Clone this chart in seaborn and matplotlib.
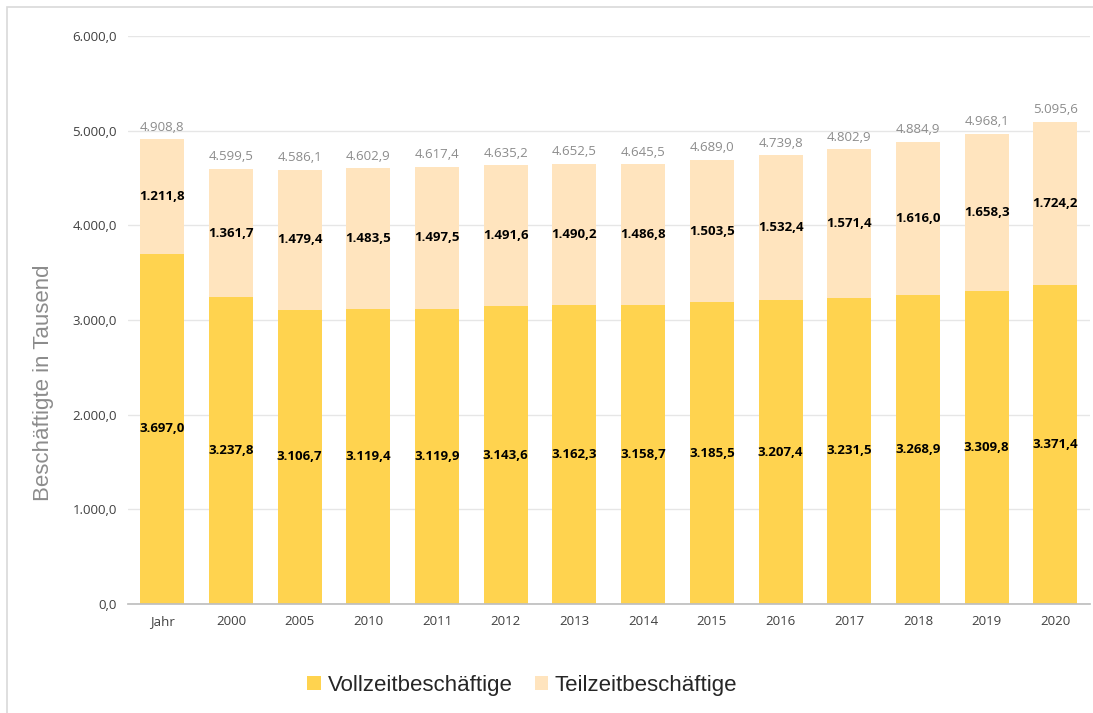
import matplotlib
matplotlib.use("Agg")
import matplotlib.pyplot as plt
import seaborn as sns
import pandas as pd
from matplotlib.patches import Rectangle

categories = ["Jahr", "2000", "2005", "2010", "2011", "2012", "2013", "2014",
              "2015", "2016", "2017", "2018", "2019", "2020"]
vollzeit = [3697.0, 3237.8, 3106.7, 3119.4, 3119.9, 3143.6, 3162.3, 3158.7,
            3185.5, 3207.4, 3231.5, 3268.9, 3309.8, 3371.4]
teilzeit = [1211.8, 1361.7, 1479.4, 1483.5, 1497.5, 1491.6, 1490.2, 1486.8,
            1503.5, 1532.4, 1571.4, 1616.0, 1658.3, 1724.2]
gesamt = [4908.8, 4599.5, 4586.1, 4602.9, 4617.4, 4635.2, 4652.5, 4645.5,
          4689.0, 4739.8, 4802.9, 4884.9, 4968.1, 5095.6]
yticks = [0, 1000, 2000, 3000, 4000, 5000, 6000]

def de_fmt(v):
    s = f"{v:,.1f}"
    return s.replace(",", "X").replace(".", ",").replace("X", ".")

df = pd.DataFrame({"Jahr": categories, "Voll": vollzeit, "Teil": teilzeit, "Gesamt": gesamt})

sns.set_theme(style="white")
plt.rcParams["font.family"] = ["Open Sans", "DejaVu Sans"]

fig = plt.figure(figsize=(10.93, 7.13), dpi=100)
ax = fig.add_axes([0.117, 0.153, 0.88, 0.7965])

c_voll = "#FFD34F"
c_teil = "#FFE4BE"

sns.barplot(data=df, x="Jahr", y="Voll", color=c_voll, width=0.64,
            saturation=1, ax=ax, label="Vollzeitbeschäftige", linewidth=0,
            edgecolor="none")
sns.barplot(data=df, x="Jahr", y="Teil", color=c_teil, width=0.64,
            saturation=1, ax=ax, bottom=df["Voll"], label="Teilzeitbeschäftige",
            linewidth=0, edgecolor="none")

for i, (v, t, g) in enumerate(zip(vollzeit, teilzeit, gesamt)):
    ax.text(i, v / 2, de_fmt(v), ha="center", va="center", fontsize=9.5,
            fontweight="bold", color="black")
    ax.text(i, v + t / 2, de_fmt(t), ha="center", va="center", fontsize=9.5,
            fontweight="bold", color="black")
    ax.text(i, g + 60, de_fmt(g), ha="center", va="bottom", fontsize=9.5,
            color="#8C8C8C")

ax.set_ylim(0, 6000)
ax.set_xlim(-0.5, len(categories) - 0.5)
ax.set_yticks(yticks)
ax.set_yticklabels([de_fmt(v) for v in yticks], fontsize=9.5, color="#404040")
ax.tick_params(axis="x", labelsize=9.5, colors="#404040", length=0, pad=8)
ax.tick_params(axis="y", length=0, pad=8)
ax.grid(axis="y", color="#E6E6E6", linewidth=1)
ax.set_axisbelow(True)
for s in ["top", "right", "left"]:
    ax.spines[s].set_visible(False)
ax.spines["bottom"].set_color("#BFBFBF")
ax.set_xlabel("")
ax.set_ylabel("Beschäftigte in Tausend", fontsize=16, color="#8C8C8C",
              family=["Liberation Sans", "DejaVu Sans"])
ax.yaxis.set_label_coords(-0.077, 0.389)

leg = ax.legend(loc="upper center", bbox_to_anchor=(0.41, -0.09), ncol=2,
                frameon=False, handlelength=0.6, handleheight=0.6,
                handletextpad=0.3, columnspacing=1.0,
                prop={"family": ["Liberation Sans", "DejaVu Sans"], "size": 16})

fig.patches.append(Rectangle((7 / 1093, -0.01), 1.02, 1 - 7 / 713 + 0.01,
                             transform=fig.transFigure, fill=False,
                             edgecolor="#D9D9D9", linewidth=1.2))

fig.savefig("out.png", dpi=100)
